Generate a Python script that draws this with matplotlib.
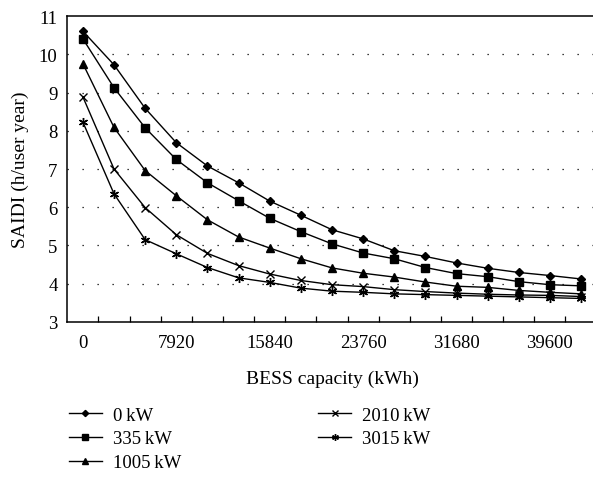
import numpy as np
import matplotlib
matplotlib.use("Agg")
import matplotlib.pyplot as plt

plt.rcParams['font.family'] = ['Liberation Serif', 'DejaVu Serif']
plt.rcParams['font.size'] = 13.5

# BESS capacity (kWh), one point per category
capacity = [0, 2640, 5280, 7920, 10560, 13200, 15840, 18480, 21120,
            23760, 26400, 29040, 31680, 34320, 36960, 39600, 42240]
xtick_vals = [0, 7920, 15840, 23760, 31680, 39600]

saidi_0 = [10.61, 9.73, 8.59, 7.69, 7.08, 6.64, 6.16, 5.79, 5.41,
           5.17, 4.86, 4.71, 4.54, 4.40, 4.29, 4.21, 4.12]
saidi_335 = [10.41, 9.13, 8.08, 7.25, 6.64, 6.17, 5.71, 5.36, 5.04,
             4.80, 4.65, 4.42, 4.26, 4.18, 4.05, 3.97, 3.94]
saidi_1005 = [9.76, 8.09, 6.96, 6.30, 5.67, 5.22, 4.93, 4.65, 4.41,
              4.27, 4.17, 4.04, 3.93, 3.90, 3.82, 3.77, 3.73]
saidi_2010 = [8.89, 7.00, 5.99, 5.28, 4.79, 4.47, 4.25, 4.08, 3.97,
              3.92, 3.84, 3.79, 3.75, 3.72, 3.70, 3.69, 3.66]
saidi_3015 = [8.23, 6.35, 5.15, 4.78, 4.42, 4.15, 4.03, 3.88, 3.80,
              3.77, 3.73, 3.71, 3.69, 3.67, 3.65, 3.63, 3.61]

labels = ['0\u2009kW', '335\u2009kW', '1005\u2009kW', '2010\u2009kW', '3015\u2009kW']
series = [saidi_0, saidi_335, saidi_1005, saidi_2010, saidi_3015]
markers = ['D', 's', '^', 'x', (6, 2, 0)]
msizes = [4.2, 5.5, 5.5, 5.5, 6.5]

fig = plt.figure(figsize=(5.93, 4.85), dpi=100)
ax = fig.add_axes([0.1135, 0.3346, 0.8926, 0.6297])

handles = []
for vals, m, ms, lab in zip(series, markers, msizes, labels):
    h, = ax.plot(capacity, vals, color='black', lw=1.0, marker=m,
                 markersize=ms, markeredgewidth=1.0, label=lab)
    handles.append(h)

ax.set_xlim(-1320, 43560)
ax.set_ylim(3, 11)
ax.set_yticks(range(3, 12))

# dotted horizontal gridlines at 4..10
for yv in range(4, 11):
    ax.axhline(yv, color='black', lw=0.9, ls=(0, (1, 11)), zorder=0)

ax.set_xticks(xtick_vals)
ax.set_xticks([c + 1320 for c in capacity[:-1]], minor=True)
ax.tick_params(axis='x', which='major', length=0, pad=9, labelsize=13.5)
ax.tick_params(axis='x', which='minor', direction='in', length=4, width=0.9)
ax.tick_params(axis='y', length=0, pad=7, labelsize=13.5)

for side in ['left', 'bottom', 'top']:
    ax.spines[side].set_linewidth(1.1)
ax.spines['right'].set_visible(False)

ax.set_xlabel('BESS capacity (kWh)', fontsize=14, labelpad=13)
ax.set_ylabel('SAIDI (h/user year)', fontsize=14, labelpad=7)

leg = fig.legend(handles=handles, labels=labels, ncol=2, frameon=False,
                 loc='upper left', bbox_to_anchor=(0.094, 0.187),
                 handlelength=1.75, labelspacing=0.36, columnspacing=7.3,
                 handletextpad=0.6, fontsize=13.5, markerscale=0.75,
                 borderpad=0.2)

fig.savefig('out.png', dpi=100)
